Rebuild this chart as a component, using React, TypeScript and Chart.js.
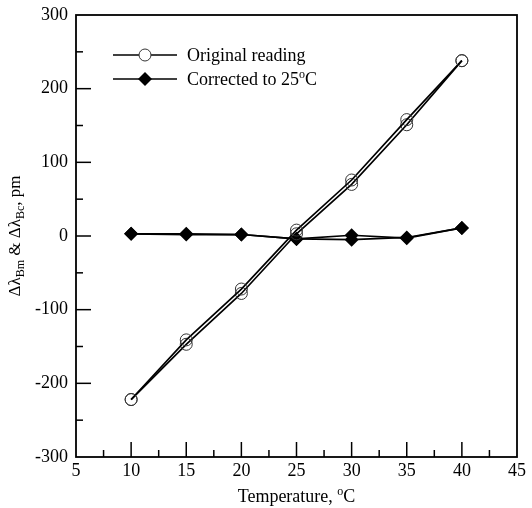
import React, { useEffect, useRef } from "react";
import { Chart, registerables } from "chart.js";

Chart.register(...registerables);

const temperatures = [10, 15, 20, 25, 30, 35, 40];
const originalUp = [-222, -141, -72, 8, 76, 158, 238];
const originalDown = [-222, -147, -78, 3, 70, 151, 238];
const correctedUp = [3, 3, 2, -4, 1, -3, 11];
const correctedDown = [3, 2, 2, -4, -5, -2, 11];

const xMin = 5, xMax = 45, xStep = 5, xMinor = 2.5;
const yMin = -300, yMax = 300, yStep = 100, yMinor = 50;

const FONT = '"Liberation Serif", "Times New Roman", serif';

type Seg = { t: string; sub?: boolean; sup?: boolean };

function drawRich(ctx: CanvasRenderingContext2D, segs: Seg[], x: number, y: number, size: number, align: "left" | "center") {
  const small = Math.round(size * 0.68);
  const widths = segs.map((s) => {
    ctx.font = `${s.sub || s.sup ? small : size}px ${FONT}`;
    return ctx.measureText(s.t).width;
  });
  const total = widths.reduce((a, b) => a + b, 0);
  let cx = align === "center" ? x - total / 2 : x;
  ctx.textAlign = "left";
  ctx.textBaseline = "alphabetic";
  segs.forEach((s, i) => {
    ctx.font = `${s.sub || s.sup ? small : size}px ${FONT}`;
    const dy = s.sub ? size * 0.25 : s.sup ? -size * 0.38 : 0;
    ctx.fillText(s.t, cx, y + dy);
    cx += widths[i];
  });
}

const decorPlugin = {
  id: "decor",
  afterDatasetsDraw(chart: any) {
    const { ctx, chartArea: a, scales } = chart;
    const xs = scales.x, ys = scales.y;
    ctx.save();
    ctx.strokeStyle = "#000";
    ctx.fillStyle = "#000";
    ctx.lineWidth = 1.8;
    ctx.strokeRect(a.left, a.top, a.right - a.left, a.bottom - a.top);
    ctx.lineWidth = 1.5;
    for (let v = xMin + xMinor; v < xMax; v += xMinor) {
      const px = xs.getPixelForValue(v);
      const major = Math.abs(v / xStep - Math.round(v / xStep)) < 1e-6;
      const len = major ? 15 : 7;
      ctx.beginPath();
      ctx.moveTo(px, a.bottom);
      ctx.lineTo(px, a.bottom - len);
      ctx.stroke();
    }
    for (let v = yMin + yMinor; v < yMax; v += yMinor) {
      const py = ys.getPixelForValue(v);
      const major = Math.abs(v / yStep - Math.round(v / yStep)) < 1e-6;
      const len = major ? 15 : 7;
      ctx.beginPath();
      ctx.moveTo(a.left, py);
      ctx.lineTo(a.left + len, py);
      ctx.stroke();
    }

    // legend
    const rows = [
      { y: 55, label: [{ t: "Original reading" }] as Seg[], style: "circle" },
      { y: 79, label: [{ t: "Corrected to 25" }, { t: "o", sup: true }, { t: "C" }] as Seg[], style: "diamond" },
    ];
    rows.forEach((r) => {
      ctx.lineWidth = 1.7;
      ctx.strokeStyle = "#000";
      ctx.beginPath();
      ctx.moveTo(113, r.y);
      ctx.lineTo(177, r.y);
      ctx.stroke();
      if (r.style === "circle") {
        ctx.beginPath();
        ctx.arc(145, r.y, 6, 0, Math.PI * 2);
        ctx.fillStyle = "#fff";
        ctx.fill();
        ctx.lineWidth = 1;
        ctx.strokeStyle = "#333";
        ctx.stroke();
      } else {
        ctx.beginPath();
        ctx.moveTo(145 - 7, r.y);
        ctx.lineTo(145, r.y - 7);
        ctx.lineTo(145 + 7, r.y);
        ctx.lineTo(145, r.y + 7);
        ctx.closePath();
        ctx.fillStyle = "#000";
        ctx.fill();
      }
      ctx.fillStyle = "#000";
      drawRich(ctx, r.label, 187, r.y + 6, 18, "left");
    });

    // x title
    const cxm = (a.left + a.right) / 2;
    drawRich(ctx, [{ t: "Temperature, " }, { t: "o", sup: true }, { t: "C" }], cxm, 502, 18, "center");

    // y title
    ctx.save();
    ctx.translate(20, (a.top + a.bottom) / 2);
    ctx.rotate(-Math.PI / 2);
    drawRich(
      ctx,
      [
        { t: "\u0394\u03bb" },
        { t: "Bm", sub: true },
        { t: " & \u0394\u03bb" },
        { t: "Bc", sub: true },
        { t: ", pm" },
      ],
      0,
      0,
      17,
      "center"
    );
    ctx.restore();
    ctx.restore();
  },
};

export default function App() {
  const ref = useRef<HTMLCanvasElement | null>(null);
  useEffect(() => {
    if (!ref.current) return;
    const mk = (vals: number[]) => temperatures.map((t, i) => ({ x: t, y: vals[i] }));
    const circleSet = (label: string, vals: number[]) => ({
      label,
      data: mk(vals),
      borderColor: "#000",
      borderWidth: 1.7,
      pointStyle: "circle",
      pointRadius: 6,
      pointBackgroundColor: "rgba(0,0,0,0)",
      pointBorderColor: "#333",
      pointBorderWidth: 1,
      tension: 0,
    });
    const diamondSet = (label: string, vals: number[]) => ({
      label,
      data: mk(vals),
      borderColor: "#000",
      borderWidth: 1.7,
      pointStyle: "rectRot",
      pointRadius: 7,
      pointBackgroundColor: "#000",
      pointBorderColor: "#000",
      pointBorderWidth: 0,
      tension: 0,
    });
    const chart = new Chart(ref.current, {
      type: "line",
      data: {
        datasets: [
          circleSet("Original reading", originalUp),
          circleSet("Original reading (return)", originalDown),
          diamondSet("Corrected to 25\u00b0C", correctedUp),
          diamondSet("Corrected to 25\u00b0C (return)", correctedDown),
        ] as any,
      },
      options: {
        animation: false,
        responsive: false,
        maintainAspectRatio: false,
        layout: { padding: { top: 15, right: 15, left: 0, bottom: 0 } },
        plugins: { legend: { display: false }, tooltip: { enabled: false } },
        scales: {
          x: {
            type: "linear",
            min: xMin,
            max: xMax,
            grid: { display: false, drawTicks: false },
            border: { display: false },
            ticks: { stepSize: xStep, padding: 3, color: "#000", font: { family: FONT, size: 18 } },
            afterFit: (s: any) => {
              s.height = 51;
              s.paddingLeft = 0;
              s.paddingRight = 0;
            },
          },
          y: {
            type: "linear",
            min: yMin,
            max: yMax,
            grid: { display: false, drawTicks: false },
            border: { display: false },
            ticks: { stepSize: yStep, padding: 8, color: "#000", font: { family: FONT, size: 18 } },
            afterFit: (s: any) => {
              s.width = 76;
              s.paddingTop = 0;
              s.paddingBottom = 0;
            },
          },
        },
      },
      plugins: [decorPlugin],
    });
    return () => chart.destroy();
  }, []);
  return (
    <div style={{ position: "absolute", left: 0, top: 0, width: 532, height: 508, background: "#fff" }}>
      <canvas ref={ref} width={532} height={508} style={{ width: 532, height: 508, display: "block" }} />
    </div>
  );
}
